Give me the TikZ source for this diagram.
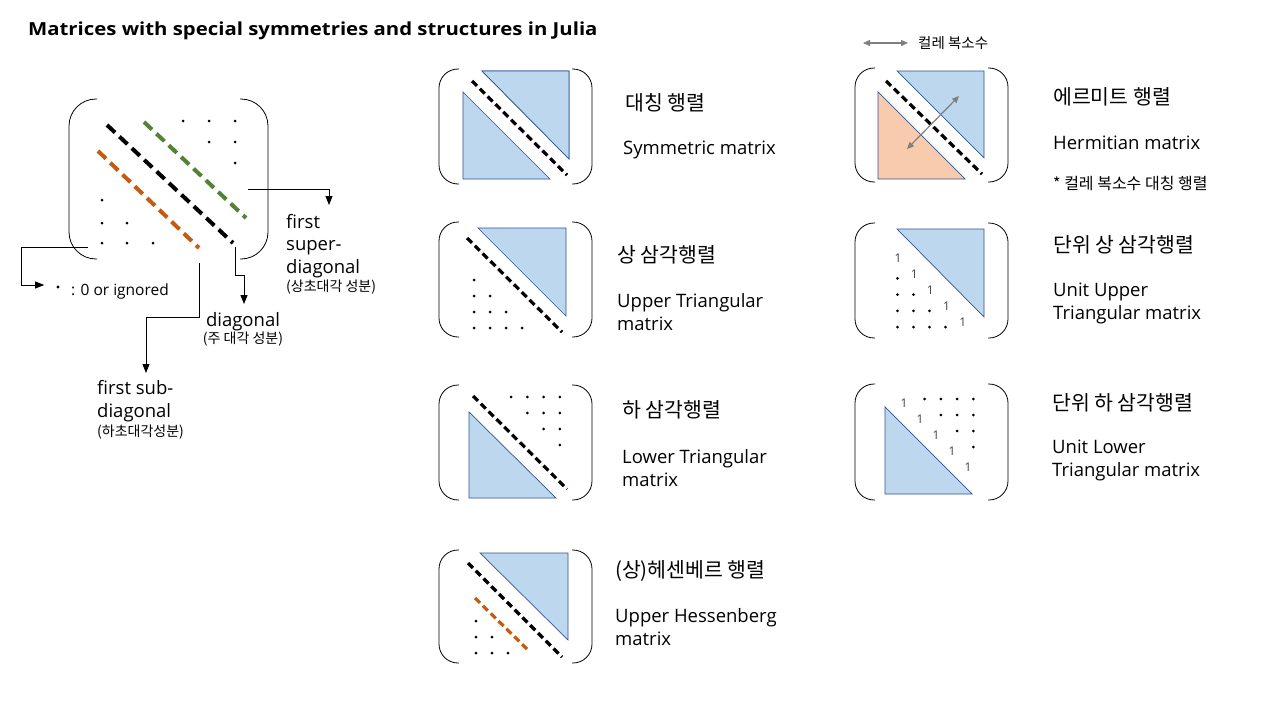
\documentclass[tikz,border=0pt]{standalone}
\usepackage{fontspec}
\usepackage{graphicx}
\setmainfont{Open Sans}
\newfontfamily\kr{Noto Sans CJK KR}
\usetikzlibrary{arrows.meta,calc}
\definecolor{bfill}{HTML}{BDD7EE}
\definecolor{bedge}{HTML}{2F5597}
\definecolor{ofill}{HTML}{F8CBAD}
\definecolor{odash}{HTML}{C55A11}
\definecolor{gdash}{HTML}{548235}
\definecolor{garrow}{HTML}{7F7F7F}
\definecolor{onegray}{HTML}{404040}
\tikzset{
  brk/.style={draw=black, line width=0.8pt},
  tri/.style={fill=bfill, draw=bedge, line width=0.7pt},
  otri/.style={fill=ofill, draw=bedge, line width=0.7pt},
  bigdash/.style={line width=4pt, dash pattern=on 11pt off 6pt},
  smalldash/.style={line width=3.2pt, dash pattern=on 7pt off 4pt},
  conn/.style={draw=black, line width=0.8pt, -{Triangle[length=9pt,width=7pt]}},
  garr/.style={draw=garrow, line width=1.2pt, {Triangle[length=7pt,width=6pt]}-{Triangle[length=7pt,width=6pt]}},
  lbl/.style={inner sep=0pt, anchor=west, align=left, font=\fontsize{18.5}{23}\selectfont},
  krlbl/.style={inner sep=0pt, anchor=west, font=\kr\fontsize{20.5}{22}\selectfont},
  krsmall/.style={inner sep=0pt, font=\kr\fontsize{14}{16}\selectfont},
  one/.style={inner sep=0pt, text=onegray, font=\fontsize{12}{12}\selectfont},
  dotnode/.style={circle, fill=black, inner sep=0pt, minimum size=3.2pt}
}
\newcommand\mtxbrk[5]{%
  \draw[brk, rounded corners=#5pt] ({#1+#5+1},#3) -- (#1,#3) -- (#1,#4) -- ({#1+#5+1},#4);
  \draw[brk, rounded corners=#5pt] ({#2-#5-1},#3) -- (#2,#3) -- (#2,#4) -- ({#2-#5-1},#4);}
\begin{document}
\begin{tikzpicture}[x=1pt,y=-1pt]
\useasboundingbox[fill=white] (0,0) rectangle (1280,720);

% title
\node[anchor=west, inner sep=0pt, font=\bfseries\fontsize{18}{20}\selectfont] (title) at (28,31)
  {\scalebox{1.13}[1]{Matrices with special symmetries and structures in Julia}};

% ---------------- big matrix ----------------
\mtxbrk{69}{268}{99}{259}{27}
\draw[bigdash, gdash] (144,122) -- (246,218);
\draw[bigdash, black] (107,125) -- (233,243);
\draw[bigdash, odash] (98,151) -- (199,248);
\foreach \p in {(183,121),(209,121),(235,121),(209,142),(235,142),(235,163),
                (102,200),(102,223),(127,223),(102,243),(127,243),(153,243)}
  \fill \p circle (1.5pt);

\coordinate (csup) at (248,189);
\coordinate (cign) at (88,247);
\coordinate (cdiag) at (235,247);
\coordinate (csub) at (199,263);

\node[inner sep=0pt, anchor=north west, align=left, font=\fontsize{18.5}{22.5}\selectfont] (lsuper) at (286,214)
  {first\\super-\\diagonal\\[-4pt]{\kr\fontsize{14}{15}\selectfont(상초대각 성분)}};
\draw[conn] (csup) -| ($(lsuper.north west)+(43,-9)$);

\node[dotnode] (ldot) at (58,287) {};
\node[inner sep=0pt, anchor=west, font=\fontsize{15.5}{18}\selectfont] (lign) at (71,291) {: 0 or ignored};
\draw[conn, shorten >=12pt] (cign) -| (21,285) -- (ldot.west |- 0,285);

\node[inner sep=0pt, anchor=north, align=center, font=\fontsize{18.5}{20}\selectfont] (ldiag) at (243,312)
  {diagonal\\[-3pt]{\kr\fontsize{14}{15}\selectfont(주 대각 성분)}};
\draw[conn] (cdiag) -- (235,275) -| ($(ldiag.north)+(1,-8)$);

\node[inner sep=0pt, anchor=north west, align=left, font=\fontsize{18.5}{23.5}\selectfont] (lsub) at (97,380)
  {first sub-\\diagonal\\[-5pt]{\kr\fontsize{14}{15}\selectfont(하초대각성분)}};
\draw[conn] (csub) -- (199,317) -| ($(lsub.north west)+(49,-7)$);

% ---------------- Symmetric ----------------
\mtxbrk{439}{592}{69}{184}{19}
\fill[tri] (482,71) -- (569,71) -- (569,159) -- cycle;
\draw[tri] (482,71) -- (569,71) -- (569,159) -- cycle;
\draw[tri] (463,92) -- (463,179) -- (550,179) -- cycle;
\draw[smalldash] (472,81) -- (567,175);
\node[krlbl] (tsymk) at (625,103) {대칭 행렬};
\node[lbl] (tsym) at (623,150) {Symmetric matrix};

% ---------------- Upper triangular ----------------
\mtxbrk{439}{592}{222}{337}{19}
\draw[tri] (478,228) -- (566,228) -- (566,316) -- cycle;
\draw[smalldash] (467,238) -- (562,332);
\foreach \r in {1,...,4}{\foreach \c in {1,...,\r}{\fill ({458+16*\c},{264+16*\r}) circle (1.5pt);}}
\node[krlbl] (tupk) at (617,255) {상 삼각행렬};
\node[lbl] (tup) at (617,312.5) {Upper Triangular\\matrix};

% ---------------- Lower triangular ----------------
\mtxbrk{439}{592}{385}{500}{19}
\draw[tri] (469,412) -- (469,498) -- (556,498) -- cycle;
\draw[smalldash] (473,396) -- (567,489);
\foreach \r in {1,...,4}{\foreach \c in {\r,...,4}{\fill ({495+16.2*\c},{381+16*\r}) circle (1.5pt);}}
\node[krlbl] (tlowk) at (622,410) {하 삼각행렬};
\node[lbl] (tlow) at (622,468.5) {Lower Triangular\\matrix};

% ---------------- Hessenberg ----------------
\mtxbrk{439}{592}{550}{663}{19}
\draw[tri] (480,553) -- (568,553) -- (568,640) -- cycle;
\draw[smalldash] (468,563) -- (562,657);
\draw[smalldash, odash] (475,598) -- (527,649);
\foreach \r in {1,...,3}{\foreach \c in {1,...,\r}{\fill ({460+16*\c},{605+16*\r}) circle (1.5pt);}}
\node[krlbl] (thesk) at (615,571) {(상)헤센베르 행렬};
\node[lbl] (thes) at (615,627.5) {Upper Hessenberg\\matrix};

% ---------------- Hermitian ----------------
\node[krsmall, anchor=west, font=\kr\fontsize{14.5}{16}\selectfont] (tconj) at (918,43) {컬레 복소수};
\draw[garr] (863,43) -- ($(tconj.west)+(-10,0)$);
\mtxbrk{855}{1008}{68}{182}{19}
\draw[tri] (897,71) -- (984,71) -- (984,158) -- cycle;
\draw[otri] (878,92) -- (878,179) -- (965,179) -- cycle;
\draw[smalldash] (886,81) -- (982,174);
\draw[garr] (907,149) -- (959,96);
\node[krlbl] (therk) at (1053,97) {에르미트 행렬};
\node[lbl] (ther) at (1053,143) {Hermitian matrix};
\node[krsmall, anchor=west, font=\kr\fontsize{16}{18}\selectfont] (therc) at (1053,184) {* 컬레 복소수 대칭 행렬};

% ---------------- Unit upper ----------------
\mtxbrk{855}{1008}{223}{338}{19}
\draw[tri] (897,229) -- (984,229) -- (984,317) -- cycle;
\foreach \i in {0,...,4}{\node[one] at ({898+16.2*\i},{258+16*\i}) {1};}
\foreach \r in {1,...,4}{\foreach \c in {1,...,\r}{\fill ({881.5+16*\c},{262+16.3*\r}) circle (1.5pt);}}
\node[krlbl] (tuuk) at (1053,245) {단위 상 삼각행렬};
\node[lbl] (tuu) at (1053,303.5) {Unit Upper\\Triangular matrix};

% ---------------- Unit lower ----------------
\mtxbrk{855}{1008}{384}{500}{19}
\draw[tri] (885,407) -- (885,494) -- (972,494) -- cycle;
\foreach \i in {0,...,4}{\node[one] at ({904+16*\i},{403+16*\i}) {1};}
\foreach \r in {1,...,4}{\foreach \c in {\r,...,4}{\fill ({908.5+16.2*\c},{383+16*\r}) circle (1.5pt);}}
\node[krlbl] (tulk) at (1052,403) {단위 하 삼각행렬};
\node[lbl] (tul) at (1052,460.5) {Unit Lower\\Triangular matrix};
\end{tikzpicture}
\end{document}
